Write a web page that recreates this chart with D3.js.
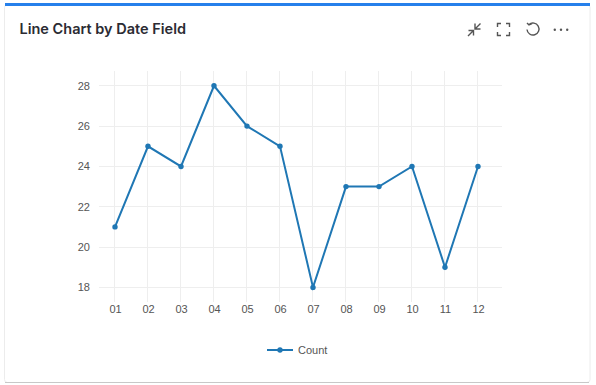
<!DOCTYPE html>
<html>
<head>
<meta charset="utf-8">
<script src="https://cdn.jsdelivr.net/npm/d3@7"></script>
<style>
  html, body { margin: 0; padding: 0; background: #fff; overflow: hidden; }
  text { font-family: "Liberation Sans", Arial, sans-serif; }
</style>
</head>
<body>
<div id="chart-area"></div>
<script>
/* Line Chart by Date Field */

var months = ["01","02","03","04","05","06","07","08","09","10","11","12"];
var counts = [21,25,24,28,26,25,18,23,23,24,19,24];
var yTicks = [18,20,22,24,26,28];

var width = 596, height = 385;

var svg = d3.select("#chart-area")
  .append("svg")
    .attr("width", width)
    .attr("height", height)
    .style("display", "block");

// card
svg.append("rect")
  .attr("x", 4.5).attr("y", 4.5)
  .attr("width", 585.5).attr("height", 378)
  .attr("rx", 3)
  .attr("fill", "#fff")
  .attr("stroke", "#ececec");
svg.append("line")
  .attr("x1", 5).attr("x2", 589)
  .attr("y1", 382.5).attr("y2", 382.5)
  .attr("stroke", "#c8c8c8");
svg.append("rect")
  .attr("x", 5).attr("y", 3)
  .attr("width", 585).attr("height", 3)
  .attr("fill", "#2680eb");

svg.append("text")
  .attr("x", 19.5).attr("y", 34)
  .style("font-family", "Inter, sans-serif")
  .style("font-weight", 600)
  .style("font-size", "14.5px")
  .attr("fill", "#2b2b33")
  .text("Line Chart by Date Field");

// toolbar icons
var icons = svg.append("g")
  .attr("fill", "none")
  .attr("stroke", "#555")
  .attr("stroke-width", 1.4);
icons.append("path").attr("d", "M468 36 L473.5 30.5 M468.5 30.5 H473.5 V35.5 M480.5 23.5 L475 29 M475 23.5 V29 H480.5");
icons.append("path").attr("d", "M497.5 27 V23.5 H501 M506 23.5 H509.5 V27 M509.5 32 V35.5 H506 M501 35.5 H497.5 V32");
icons.append("path").attr("d", "M529 24.5 A6 6 0 1 1 527 29.5 M527 23 L529 25 L532 23.6");
icons.append("g").attr("fill", "#555").attr("stroke", "none")
  .selectAll("circle").data([554.8, 561, 567.2]).join("circle")
  .attr("cx", d => d).attr("cy", 29.7).attr("r", 1.2);

var x = d3.scalePoint()
  .domain(months)
  .range([115, 478]);

var y = d3.scaleLinear()
  .domain([18, 28])
  .range([287.4, 85.8]);

// grid
svg.append("g").selectAll("line").data(yTicks).join("line")
  .attr("x1", 99).attr("x2", 502)
  .attr("y1", d => Math.floor(y(d)) + 0.5)
  .attr("y2", d => Math.floor(y(d)) + 0.5)
  .attr("stroke", "#eeeeee");
svg.append("g").selectAll("line").data(months).join("line")
  .attr("x1", d => Math.round(x(d)) - 0.5)
  .attr("x2", d => Math.round(x(d)) - 0.5)
  .attr("y1", 71).attr("y2", 302)
  .attr("stroke", "#eeeeee");

// axes, labels only
var xAxisCall = d3.axisBottom(x).tickSize(0).tickPadding(0);
svg.append("g")
  .attr("transform", "translate(0,305)")
  .call(xAxisCall)
  .call(g => g.select(".domain").remove())
  .selectAll("text")
    .attr("dy", "0.71em")
    .style("font-size", "11px")
    .attr("fill", "#555");

var yAxisCall = d3.axisLeft(y).tickValues(yTicks).tickSize(0).tickPadding(0);
svg.append("g")
  .attr("transform", "translate(90,0)")
  .call(yAxisCall)
  .call(g => g.select(".domain").remove())
  .selectAll("text")
    .style("font-size", "11px")
    .attr("fill", "#555");

// series
var line = d3.line()
  .x((d, i) => x(months[i]))
  .y(d => y(d));

svg.append("path")
  .datum(counts)
  .attr("d", line)
  .attr("fill", "none")
  .attr("stroke", "#1f77b4")
  .attr("stroke-width", 2);

svg.append("g").selectAll("circle").data(counts).join("circle")
  .attr("cx", (d, i) => x(months[i]))
  .attr("cy", d => y(d))
  .attr("r", 2.7)
  .attr("fill", "#1f77b4");

// legend
svg.append("line")
  .attr("x1", 267).attr("x2", 293)
  .attr("y1", 350).attr("y2", 350)
  .attr("stroke", "#1f77b4")
  .attr("stroke-width", 2);
svg.append("circle")
  .attr("cx", 280).attr("cy", 350).attr("r", 2.7)
  .attr("fill", "#1f77b4");
svg.append("text")
  .attr("x", 298).attr("y", 354)
  .style("font-size", "11px")
  .attr("fill", "#555")
  .text("Count");
</script>
</body>
</html>
